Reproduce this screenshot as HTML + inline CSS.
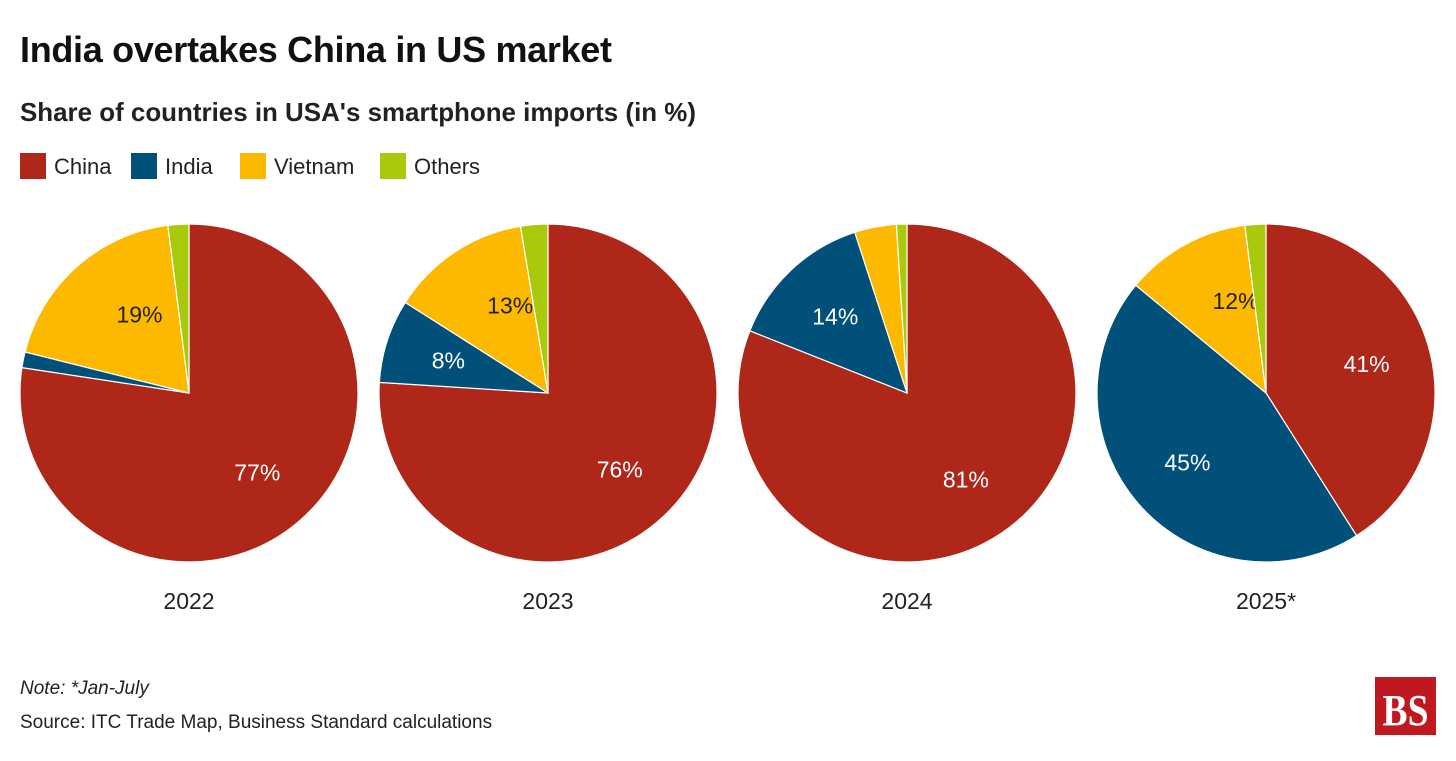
<!DOCTYPE html>
<html><head><meta charset="utf-8"><style>
body{margin:0;background:#fff;width:1456px;height:756px;overflow:hidden;font-family:"Liberation Sans",sans-serif;}
</style></head><body>
<svg width="1456" height="756" xmlns="http://www.w3.org/2000/svg">
<text x="20" y="62" font-size="36" font-weight="bold" fill="#111" textLength="592">India overtakes China in US market</text>
<text x="20" y="121" font-size="26" font-weight="bold" fill="#222" textLength="676" lengthAdjust="spacingAndGlyphs">Share of countries in USA's smartphone imports (in %)</text>
<g id="legend"></g>
<g id="pies"></g>
<text x="20" y="694" font-size="19" font-style="italic" fill="#222">Note: *Jan-July</text>
<text x="20" y="728" font-size="19" fill="#222">Source: ITC Trade Map, Business Standard calculations</text>
<g>
<rect x="1375" y="677" width="61" height="58" fill="#c0181f"/>
<text x="1405.5" y="725" font-family="Liberation Serif,serif" font-weight="bold" font-size="44" fill="#fff" text-anchor="middle" textLength="46" lengthAdjust="spacingAndGlyphs">BS</text>
</g>
</svg>
<script>
const seriesNames=["China","India","Vietnam","Others"];
const colors=["#ae2718","#00507a","#fcb900","#a9c90c"];
const years=["2022","2023","2024","2025*"];
const china=[77.4,76,81,41];
const india=[1.5,8,14,45];
const vietnam=[19.1,13.4,4,12];
const others=[2,2.6,1,2];
const NS="http://www.w3.org/2000/svg";
const leg=document.getElementById('legend');
const legX=[20,131,240,380];
seriesNames.forEach((n,i)=>{
 const r=document.createElementNS(NS,'rect');
 r.setAttribute('x',legX[i]);r.setAttribute('y',153);r.setAttribute('width',26);r.setAttribute('height',26);r.setAttribute('fill',colors[i]);
 
 
 leg.appendChild(r);
 const t=document.createElementNS(NS,'text');
 t.setAttribute('x',legX[i]+34);t.setAttribute('y',174);t.setAttribute('font-size','22');t.setAttribute('fill','#222');
 t.textContent=n;
 
 
 leg.appendChild(t);
});
const pies=document.getElementById('pies');
const R=169,cy=393;
function pt(cx,a,r){return [cx+r*Math.sin(a),cy-r*Math.cos(a)];}
years.forEach((y,j)=>{
 const cx=189+j*359;
 const vals=[china[j],india[j],vietnam[j],others[j]];
 const tot=vals.reduce((a,b)=>a+b,0);
 let start=0;
 vals.forEach((v,i)=>{
  const a0=start/tot*2*Math.PI,a1=(start+v)/tot*2*Math.PI;
  const p0=pt(cx,a0,R),p1=pt(cx,a1,R);
  const p=document.createElementNS(NS,'path');
  p.setAttribute('d',`M${cx},${cy} L${p0[0]},${p0[1]} A${R},${R} 0 ${a1-a0>Math.PI?1:0} 1 ${p1[0]},${p1[1]} Z`);
  p.setAttribute('fill',colors[i]);p.setAttribute('stroke','#fff');p.setAttribute('stroke-width','1.2');
  
  
  pies.appendChild(p);
  if(v>=5){
   const am=(a0+a1)/2;const lp=pt(cx,am,R*0.62);
   const t=document.createElementNS(NS,'text');
   t.setAttribute('x',lp[0]+(i==2?20:0));t.setAttribute('y',lp[1]+8);t.setAttribute('text-anchor','middle');
   t.setAttribute('font-size','23');t.setAttribute('fill',i==2?'#222':'#fff');
   t.textContent=Math.floor(v)+'%';
   
   
   pies.appendChild(t);
  }
  start+=v;
 });
 const t=document.createElementNS(NS,'text');
 t.setAttribute('x',cx);t.setAttribute('y',609);t.setAttribute('text-anchor','middle');t.setAttribute('font-size','23');t.setAttribute('fill','#222');
 t.textContent=y;
 
 
 pies.appendChild(t);
});
</script>
</body></html>
